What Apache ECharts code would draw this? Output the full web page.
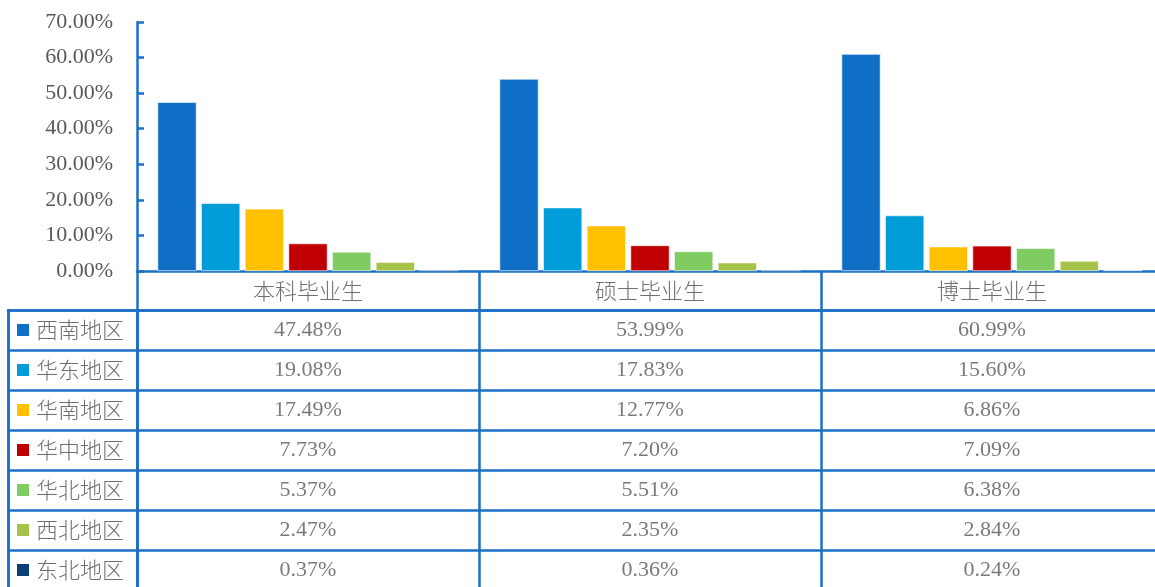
<!DOCTYPE html>
<html>
<head>
<meta charset="utf-8">
<script src="https://cdn.jsdelivr.net/npm/echarts@6/dist/echarts.min.js"></script>
<style>
  html, body { margin: 0; padding: 0; background: #fff; }
  #main { width: 1155px; height: 587px; }
</style>
</head>
<body>
<div id="main"></div>
<script>
var categories = ['本科毕业生', '硕士毕业生', '博士毕业生'];
var regions = ['西南地区', '华东地区', '华南地区', '华中地区', '华北地区', '西北地区', '东北地区'];
var colors = ['#0f6fc6', '#009dd9', '#ffc000', '#c00000', '#7fcc63', '#a5c249', '#0b3e73'];
// percent values, one array per region, in category order
var xinan = [47.48, 53.99, 60.99];
var huadong = [19.08, 17.83, 15.60];
var huanan = [17.49, 12.77, 6.86];
var huazhong = [7.73, 7.20, 7.09];
var huabei = [5.37, 5.51, 6.38];
var xibei = [2.47, 2.35, 2.84];
var dongbei = [0.37, 0.36, 0.24];
var values = [xinan, huadong, huanan, huazhong, huabei, xibei, dongbei];

var lineColor = '#1b6fc6';
var textColor = '#595959';
var cjkColor = '#6f6f6f';
var numFont = '"Liberation Serif", "Times New Roman", serif';
var cjkFont = '"Noto Sans CJK SC", sans-serif';

var chart = echarts.init(document.getElementById('main'));

var barSeries = regions.map(function (name, i) {
  return {
    name: name,
    type: 'bar',
    xAxisIndex: 0,
    yAxisIndex: 0,
    barGap: '12%',
    barCategoryGap: '12%',
    itemStyle: { color: colors[i], borderColor: '#ffffff', borderWidth: 0.6 },
    data: values[i]
  };
});

var cellData = [];
regions.forEach(function (name, r) {
  categories.forEach(function (cat, c) {
    cellData.push([cat, name, values[r][c]]);
  });
});

var legendRich = {
  t: { fontFamily: cjkFont, fontSize: 22, fontWeight: 300, color: cjkColor, padding: [0, 0, 0, 7] }
};
colors.forEach(function (c, i) {
  legendRich['m' + i] = { width: 12, height: 12, backgroundColor: c };
});

var option = {
  animation: false,
  grid: [
    { left: 137, top: 22, width: 1026, height: 249, outerBoundsMode: 'none' },
    { left: 137, top: 310, width: 1026, height: 280, outerBoundsMode: 'none' },
    { left: 8, top: 310, width: 129, height: 280, outerBoundsMode: 'none' }
  ],
  xAxis: [{
    gridIndex: 0,
    type: 'category',
    data: categories,
    axisLine: { lineStyle: { color: lineColor, width: 2.5 } },
    axisTick: { show: true, interval: 0, length: 39, lineStyle: { color: lineColor, width: 2.5 } },
    axisLabel: { margin: 9, fontFamily: cjkFont, fontSize: 22, fontWeight: 300, color: cjkColor }
  }, {
    gridIndex: 1,
    type: 'category',
    position: 'top',
    data: categories,
    axisLine: { lineStyle: { color: lineColor, width: 2.5 } },
    axisTick: { show: false },
    axisLabel: { show: false },
    splitLine: { show: true, interval: 0, lineStyle: { color: lineColor, width: 2.5 } }
  }, {
    gridIndex: 2,
    type: 'category',
    position: 'top',
    data: [''],
    axisLine: { lineStyle: { color: lineColor, width: 2.5 } },
    axisTick: { show: false },
    axisLabel: { show: false },
    splitLine: { show: true, interval: 0, lineStyle: { color: lineColor, width: 2.5 } }
  }],
  yAxis: [{
    gridIndex: 0,
    type: 'value',
    min: 0,
    max: 70,
    interval: 10,
    axisLine: { show: true, lineStyle: { color: lineColor, width: 2.5 } },
    axisTick: { show: true, inside: true, length: 7, lineStyle: { color: lineColor, width: 2.5 } },
    splitLine: { show: false },
    axisLabel: {
      margin: 24,
      fontFamily: numFont,
      fontSize: 22,
      color: textColor,
      formatter: function (v) { return v.toFixed(2) + '%'; }
    }
  }, {
    gridIndex: 1,
    type: 'category',
    inverse: true,
    data: regions,
    axisLine: { show: true, lineStyle: { color: lineColor, width: 2.5 } },
    axisTick: { show: false },
    axisLabel: { show: false },
    splitLine: { show: true, interval: 0, lineStyle: { color: lineColor, width: 2.5 } }
  }, {
    gridIndex: 2,
    type: 'category',
    inverse: true,
    data: regions,
    axisLine: { show: true, lineStyle: { color: lineColor, width: 2.5 } },
    axisTick: { show: false },
    splitLine: { show: true, interval: 0, lineStyle: { color: lineColor, width: 2.5 } },
    axisLabel: {
      inside: true,
      margin: 9,
      interval: 0,
      rich: legendRich,
      formatter: function (v, idx) { return '{m' + idx + '|}{t|' + v + '}'; }
    }
  }],
  series: barSeries.concat([{
    name: 'table',
    type: 'scatter',
    xAxisIndex: 1,
    yAxisIndex: 1,
    symbolSize: 1,
    itemStyle: { color: 'rgba(0,0,0,0)' },
    label: {
      show: true,
      position: 'inside',
      fontFamily: numFont,
      fontSize: 22,
      color: textColor,
      formatter: function (p) { return p.value[2].toFixed(2) + '%'; }
    },
    data: cellData
  }])
};

chart.setOption(option);
</script>
</body>
</html>
